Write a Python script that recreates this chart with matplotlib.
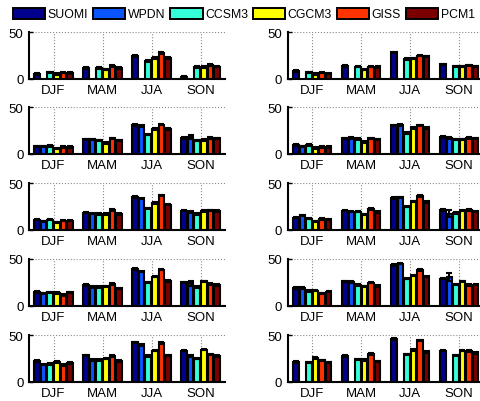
import numpy as np
import matplotlib.pyplot as plt
from matplotlib.patches import Patch

plt.rcParams['font.family'] = ['Liberation Sans', 'DejaVu Sans']

nan = np.nan
models = ['SUOMI', 'WPDN', 'CCSM3', 'CGCM3', 'GISS', 'PCM1']
seasons = ['DJF', 'MAM', 'JJA', 'SON']
colors = ['#00008c', '#0a55ff', '#33ffd8', '#ffff00', '#ff3300', '#7a0000']

# one panel = rows of models, columns of seasons
p1 = [[5, 11.5, 24.5, 1.5], [nan]*4, [7, 11.5, 19, 12.5],
      [5, 10, 22.5, 12.5], [6.5, 14, 27.5, 15], [6, 11.5, 22.5, 13]]
p2 = [[8.5, 14, 28.5, 15.5], [nan]*4, [7, 13, 21.5, 13.5],
      [5, 10, 22, 13.5], [6.5, 13, 25, 14.5], [5.5, 12.5, 24, 13.5]]
p3 = [[8, 15.5, 31, 17], [8, 15.5, 30, 18], [8.5, 14.5, 20.5, 14.5],
      [5.5, 11.5, 26.5, 15], [7.5, 16.5, 31.5, 17], [7.5, 14.5, 26.5, 16.5]]
p4 = [[9.5, 16.5, 30.5, 18], [8, 17, 31, 17], [9.5, 16, 22.5, 15.5],
      [6, 12.5, 28, 15.5], [7.5, 16.5, 30.5, 17], [7.5, 15.5, 28, 16.5]]
p5 = [[11, 18.5, 35.5, 20.5], [9, 17.5, 33.5, 19], [11, 17, 23, 17],
      [8, 17, 29, 20], [10, 21.5, 37, 21], [10, 17, 27, 20]]
p6 = [[13, 20.5, 34, 21.5], [15.5, 19.5, 35, 17.5], [12, 19.5, 25, 18],
      [9, 16.5, 30.5, 20.5], [11.5, 22.5, 36.5, 21.5], [11, 19, 30, 19.5]]
p7 = [[14.5, 22, 39, 25], [13, 20, 36.5, 24], [14, 20, 25, 20],
      [13.5, 20.5, 31, 26], [11.5, 23, 38.5, 23], [14, 18.5, 26.5, 22]]
p8 = [[19, 26, 43.5, 29], [19, 25.5, 45, 30.5], [15.5, 22, 29, 22.5],
      [16, 20.5, 32.5, 26], [13, 24.5, 38, 22], [15, 21, 31, 22.5]]
p9 = [[22.5, 28.5, 42.5, 33.5], [18.5, 23.5, 39.5, 28], [19, 23.5, 27.5, 25],
      [21.5, 25, 33.5, 34.5], [18, 28, 41.5, 29.5], [20, 22.5, 28.5, 28]]
p10 = [[21.5, 27.5, 46, 33.5], [nan]*4, [21, 24, 29.5, 28.5],
       [25.5, 23.5, 34, 33.5], [23, 30, 44.5, 33], [21, 22, 32, 31]]
panels = [p1, p2, p3, p4, p5, p6, p7, p8, p9, p10]

# error bar half-lengths: default small, a few larger ones (panel, model, season)
err_default = 0.8
err_big = {(0, 0, 3): 2.0, (2, 1, 3): 2.5, (5, 1, 3): 4.0,
           (6, 1, 3): 2.5, (7, 1, 3): 4.0}

fig = plt.figure(figsize=(4.81, 4.02), dpi=100)
W, H = 481.0, 402.0
lefts = [29, 287.7]
tops = [33.3, 108.3, 184.3, 260, 336.3]
aw, ah = 196, 46.5

x = np.arange(1, 5)
step = 0.8 / 6
for k, data in enumerate(panels):
    r, c = divmod(k, 2)
    ax = fig.add_axes([lefts[c] / W, 1 - (tops[r] + ah) / H, aw / W, ah / H])
    for m in range(6):
        vals = np.array(data[m], dtype=float)
        errs = np.array([err_big.get((k, m, s), err_default) for s in range(4)])
        xs = x + (m - 2.5) * step
        ax.bar(xs, vals, width=step * 0.85, color=colors[m],
               edgecolor='black', linewidth=1.5, zorder=3)
        ok = ~np.isnan(vals)
        ax.errorbar(xs[ok], vals[ok], yerr=errs[ok], fmt='none',
                    ecolor='black', elinewidth=1.5, capsize=2, capthick=1.5,
                    zorder=4)
    ax.set_xlim(0.5, 4.5)
    ax.set_ylim(0, 50)
    ax.set_xticks(x)
    ax.set_xticklabels(seasons)
    ax.set_yticks([0, 50])
    ax.grid(True, linestyle=':', color='#888888', linewidth=0.8, zorder=0)
    ax.set_axisbelow(True)
    for sp in ['top', 'right']:
        ax.spines[sp].set_visible(False)
    for sp in ['left', 'bottom']:
        ax.spines[sp].set_linewidth(1.5)
    ax.tick_params(direction='in', length=3, width=1, labelsize=9.5, pad=4)

handles = [Patch(facecolor=colors[i], edgecolor='black', linewidth=1.4)
           for i in range(6)]
fig.legend(handles, models, loc='upper center', bbox_to_anchor=(0.507, 1.0),
           ncol=6, frameon=False, fontsize=8.8, handlelength=2.65,
           handleheight=1.05, handletextpad=0.2, columnspacing=0.4,
           borderaxespad=0.3)

fig.savefig('out.png', dpi=100)
